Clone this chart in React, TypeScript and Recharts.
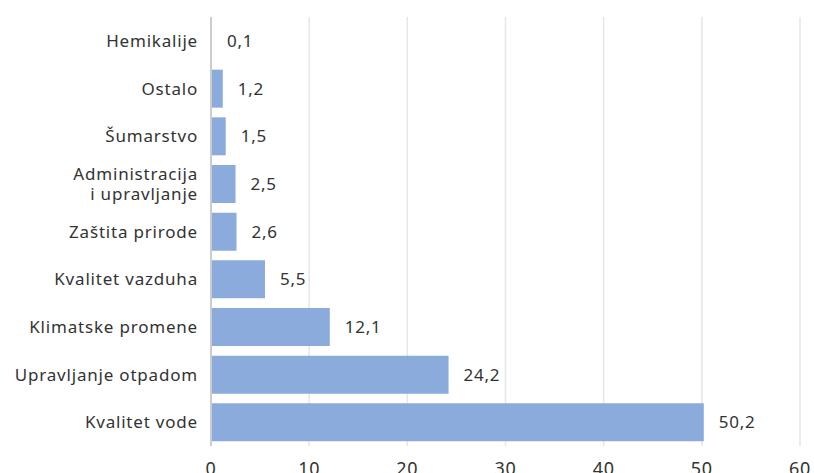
import { BarChart, Bar, XAxis, YAxis, CartesianGrid, LabelList } from "recharts"

const categories = [
	"Hemikalije",
	"Ostalo",
	"Šumarstvo",
	"Administracija\ni upravljanje",
	"Zaštita prirode",
	"Kvalitet vazduha",
	"Klimatske promene",
	"Upravljanje otpadom",
	"Kvalitet vode",
]
const values = [0.1, 1.2, 1.5, 2.5, 2.6, 5.5, 12.1, 24.2, 50.2]
const xTicks = [0, 10, 20, 30, 40, 50, 60]

const data = categories.map((name, i) => ({ name, value: values[i] }))

const FONT = "'Noto Sans', 'DejaVu Sans', sans-serif"
const TEXT = "#333333"

function CategoryTick(props: any) {
	const { x, y, payload } = props
	const lines = String(payload.value).split("\n")
	const lh = 20
	const start = -((lines.length - 1) * lh) / 2
	return (
		<text x={x} y={y} textAnchor="end" fill={TEXT} fontSize={17} letterSpacing={0.8} fontFamily={FONT}>
			{lines.map((l, i) => (
				<tspan key={i} x={x} dy={i === 0 ? start + 6 : lh}>
					{l}
				</tspan>
			))}
		</text>
	)
}

export default function App() {
	return (
		<div style={{ position: "absolute", left: 0, top: 0, width: 814, height: 473, overflow: "hidden", background: "#fff" }}>
			<BarChart
				width={814}
				height={486}
				data={data}
				layout="vertical"
				margin={{ top: 17, right: 14, left: 0, bottom: 10 }}
				barCategoryGap={5}
			>
				<CartesianGrid horizontal={false} stroke="#e6e6e6" strokeWidth={1.5} />
				<XAxis
					type="number"
					domain={[0, 60]}
					ticks={xTicks}
					axisLine={false}
					tickLine={false}
					tickMargin={10}
					height={30}
					tick={{ fill: TEXT, fontSize: 18, fontFamily: FONT, letterSpacing: 0.7 }}
				/>
				<YAxis
					type="category"
					dataKey="name"
					width={211}
					axisLine={{ stroke: "#cccccc", strokeWidth: 2 }}
					tickLine={false}
					tickMargin={7}
					tick={<CategoryTick />}
				/>
				<Bar dataKey="value" fill="#8AABDB" isAnimationActive={false}>
					<LabelList
						dataKey="value"
						position="right"
						offset={15}
						formatter={(v: any) => String(v).replace(".", ",")}
						style={{ fill: TEXT, fontSize: 17, fontFamily: FONT, letterSpacing: 0.7 }}
					/>
				</Bar>
			</BarChart>
		</div>
	)
}
